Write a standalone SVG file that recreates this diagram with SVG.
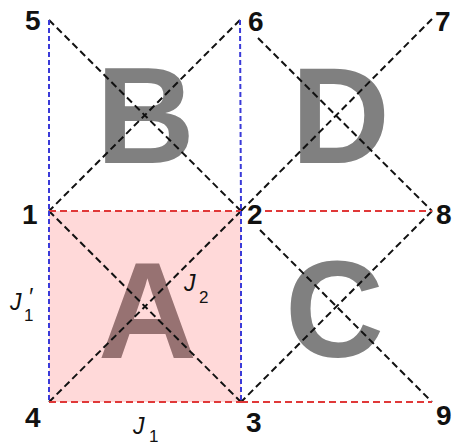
<svg xmlns="http://www.w3.org/2000/svg" width="454" height="447" viewBox="0 0 454 447">
<style>
.big{font-family:"Liberation Sans",Arial,sans-serif;font-weight:bold;font-size:137px;fill:#808080}
.num{font-family:"Liberation Sans",Arial,sans-serif;font-weight:bold;font-size:28px;fill:#111}
.j{font-family:"Liberation Sans",Arial,sans-serif;font-style:italic;font-size:23px;fill:#111}
.sub{font-family:"Liberation Sans",Arial,sans-serif;font-size:17px;fill:#111}
.k{stroke:#111;stroke-width:2;stroke-dasharray:7 4;fill:none}
.r{stroke:#e03838;stroke-width:2;stroke-dasharray:7 4;fill:none}
.b{stroke:#3a3ad8;stroke-width:2;stroke-dasharray:5 3;fill:none}
</style>
<rect width="454" height="447" fill="#fff"/>
<g id="regionA"><rect x="49" y="211" width="192" height="191" fill="#ffd9d9"/><text class="big" x="98" y="358" style="fill:#977272">A</text></g>
<g id="regionB"><text class="big" x="96" y="163">B</text></g>
<g id="regionD"><text class="big" x="291" y="163">D</text></g>
<g id="regionC"><text class="big" x="285" y="357">C</text></g>
<g id="connectors">
<line class="k" x1="49" y1="211" x2="241" y2="402"/>
<line class="k" x1="241" y1="211" x2="49" y2="402"/>
<line class="k" x1="49" y1="20" x2="241" y2="211"/>
<line class="k" x1="240" y1="20" x2="49" y2="211"/>
<line class="k" x1="258" y1="38" x2="432" y2="211"/>
<line class="k" x1="432" y1="19" x2="241" y2="211"/>
<line class="k" x1="260" y1="230" x2="432" y2="402"/>
<line class="k" x1="432" y1="211" x2="241" y2="402"/>
<line class="r" x1="49" y1="211" x2="241" y2="211"/>
<line class="r" x1="265" y1="211" x2="432" y2="211"/>
<line class="r" x1="49" y1="402" x2="241" y2="402"/>
<line class="r" x1="241" y1="402" x2="432" y2="402"/>
<line class="b" x1="49" y1="20" x2="49" y2="211"/>
<line class="b" x1="49" y1="211" x2="49" y2="402"/>
<line class="b" x1="240" y1="20" x2="241" y2="211"/>
<line class="b" x1="241" y1="211" x2="241" y2="402"/>
</g>
<g id="n5"><text class="num" x="25" y="30">5</text></g>
<g id="n6"><text class="num" x="248" y="31">6</text></g>
<g id="n7"><text class="num" x="435" y="31">7</text></g>
<g id="n1"><text class="num" x="22" y="224">1</text></g>
<g id="n2"><text class="num" x="247" y="224">2</text></g>
<g id="n8"><text class="num" x="436" y="224">8</text></g>
<g id="n4"><text class="num" x="25" y="427">4</text></g>
<g id="n3"><text class="num" x="246" y="432">3</text></g>
<g id="n9"><text class="num" x="436" y="425">9</text></g>
<g id="labelJ1"><text class="j" x="133" y="434">J</text><text class="sub" x="149" y="442">1</text></g>
<g id="labelJ2"><text class="j" x="184" y="291">J</text><text class="sub" x="199" y="303">2</text></g>
<g id="labelJ1p"><text class="j" x="10" y="310">J</text><text class="j" x="28" y="305">′</text><text class="sub" x="24" y="321">1</text></g>
</svg>
